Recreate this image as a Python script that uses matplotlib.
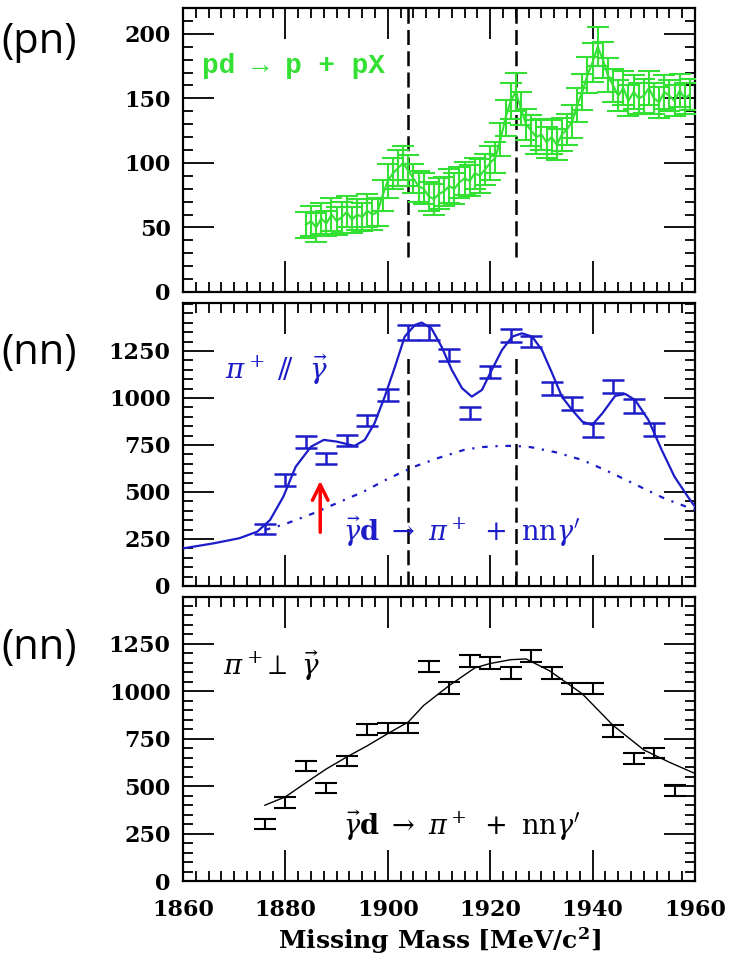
import matplotlib
matplotlib.use("Agg")
import matplotlib.pyplot as plt
from matplotlib.ticker import MultipleLocator

# ---------------- data ----------------
x_range = (1860, 1960)
x_ticks = [1860, 1880, 1900, 1920, 1940, 1960]
dashed_x = [1904, 1925]
y_ticks_top = [0, 50, 100, 150, 200]
y_ticks_nn = [0, 250, 500, 750, 1000, 1250]

# top panel (pn): pd -> p + pX
green_x = list(range(1884, 1960))
green_y = [52, 55, 50, 57, 53, 60, 55, 58, 62, 56, 60, 58, 63, 60, 62,
           75, 86, 92, 96, 100, 94, 88, 82, 80, 74, 72, 76, 78, 82, 80,
           85, 88, 86, 92, 90, 95, 100, 104, 118, 135, 148, 155, 142, 130,
           125, 120, 122, 116, 120, 114, 122, 126, 132, 145, 155, 168, 178,
           190, 180, 168, 160, 152, 158, 148, 155, 150, 152, 158, 150, 147,
           155, 152, 148, 156, 150, 153]
green_err = [10, 12, 11, 12, 10, 13, 11, 12, 12, 10, 12, 11, 13, 12, 11,
             12, 13, 12, 14, 13, 12, 11, 12, 12, 11, 12, 12, 11, 13, 12,
             12, 13, 12, 12, 13, 12, 13, 12, 13, 14, 14, 15, 13, 12,
             12, 13, 12, 12, 13, 12, 13, 12, 13, 13, 14, 14, 15,
             15, 14, 13, 13, 12, 13, 12, 13, 12, 13, 13, 12, 12,
             13, 12, 12, 13, 12, 12]

# middle panel (nn): pi+ parallel gamma
blue_x = [1876, 1880, 1884, 1888, 1892, 1896, 1900, 1904, 1908, 1912,
          1916, 1920, 1924, 1928, 1932, 1936, 1940, 1944, 1948, 1952]
blue_y = [303, 564, 766, 677, 773, 881, 1016, 1347, 1347, 1227,
          920, 1138, 1333, 1302, 1051, 972, 831, 1062, 957, 833]
blue_err = [28, 30, 30, 30, 30, 30, 30, 40, 40, 32,
            34, 32, 34, 30, 36, 34, 38, 34, 36, 36]
blue_fit_x = [1860, 1866, 1871, 1874.5, 1877, 1879.6, 1882, 1885, 1887.5, 1890,
              1893.5, 1895.5, 1897.4, 1899.4, 1901.4, 1903.3, 1905.3, 1906.6,
              1908.5, 1910.5, 1912.5, 1914.5, 1916.4, 1918.4, 1920.3, 1922.3,
              1924.3, 1926.2, 1928.2, 1930.1, 1932.1, 1934, 1936, 1938, 1939.9,
              1941.9, 1944.4, 1946.4, 1948.3, 1950.9, 1953.5, 1956, 1958.6, 1960]
blue_fit_y = [200, 227, 254, 289, 351, 475, 634, 741, 777, 768,
              745, 777, 865, 1007, 1166, 1326, 1388, 1401,
              1371, 1273, 1149, 1052, 1007, 1043, 1149, 1255,
              1326, 1344, 1326, 1255, 1131, 1007, 936, 874, 856,
              918, 1011, 1021, 989, 883, 723, 581, 475, 422]
bg_x = [1876, 1880, 1885.5, 1890, 1895.3, 1900, 1905.1, 1910, 1914.8, 1918,
        1922, 1925, 1928, 1933, 1938, 1943, 1947.9, 1951, 1954, 1957, 1960]
bg_y = [298, 330, 387, 440, 502, 570, 634, 682, 723, 738,
        745, 745, 738, 710, 670, 610, 546, 505, 466, 435, 404]

# bottom panel (nn): pi+ perpendicular gamma
black_x = [1876, 1880, 1884, 1888, 1892, 1896, 1900, 1904, 1908, 1912, 1916,
           1920, 1924, 1928, 1932, 1936, 1940, 1944, 1948, 1952, 1956]
black_y = [299, 413, 606, 490, 632, 798, 805, 805, 1129, 1017, 1159,
           1147, 1094, 1185, 1094, 1012, 1012, 790, 646, 674, 478]
black_err = [26, 28, 28, 28, 28, 28, 28, 28, 30, 30, 30,
             32, 30, 32, 30, 30, 30, 30, 28, 28, 28]
black_fit_x = [1876, 1880, 1884.2, 1888, 1892, 1896, 1900, 1904, 1907, 1912,
               1917, 1920, 1924, 1927, 1931.5, 1938, 1944, 1950, 1955, 1960]
black_fit_y = [399, 443, 521, 590, 653, 712, 776, 837, 924, 1029,
               1122, 1145, 1165, 1169, 1108, 985, 819, 690, 625, 566]

# annotations
arrow_x = 1886.8
arrow_y = (271, 574)

GREEN = '#33e033'
BLUE = '#1c1cc8'
TXT_FONT = ['DejaVu Serif']

plt.rcParams['mathtext.fontset'] = 'dejavuserif'

fig = plt.figure(figsize=(7.32, 9.61), dpi=100)
W, H = 732, 961
left, right = 183, 695
panels_px = [(8, 292), (303, 586), (597, 881)]
axes = []
for (t, b) in panels_px:
    ax = fig.add_axes([left / W, 1 - b / H, (right - left) / W, (b - t) / H])
    axes.append(ax)

ylims = [(0, 220), (0, 1505), (0, 1495)]
yticks = [y_ticks_top, y_ticks_nn, y_ticks_nn]
ymin = [10, 50, 50]
for i, ax in enumerate(axes):
    ax.set_xlim(*x_range)
    ax.set_ylim(*ylims[i])
    ax.xaxis.set_major_locator(MultipleLocator(20))
    ax.xaxis.set_minor_locator(MultipleLocator(2.5))
    ax.set_yticks(yticks[i])
    ax.yaxis.set_minor_locator(MultipleLocator(ymin[i]))
    ax.tick_params(which='both', direction='in', top=True, right=True,
                   width=1.3, color='black')
    ax.tick_params(which='major', length=22)
    ax.tick_params(which='minor', length=7)
    ax.tick_params(axis='y', which='major', labelsize=16, pad=9)
    ax.tick_params(axis='x', which='major', labelsize=16, pad=13)
    for s in ax.spines.values():
        s.set_linewidth(1.6)
    for lab in ax.get_yticklabels() + ax.get_xticklabels():
        lab.set_family(TXT_FONT)
        lab.set_fontweight('bold')
    if i < 2:
        ax.tick_params(axis='x', labelbottom=False)
    else:
        ax.set_xticks(x_ticks)
        ax.set_xlabel('Missing Mass [MeV/c$^{\\mathbf{2}}$]', fontsize=18,
                      family=TXT_FONT, fontweight='bold', labelpad=3)

# ---- top panel
ax = axes[0]
ax.errorbar(green_x, green_y, yerr=green_err, color=GREEN, lw=1.5,
            elinewidth=1.5, capsize=8, capthick=1.5, zorder=3)
for xd in dashed_x:
    ax.plot([xd, xd], [27, 220], color='black', lw=1.8,
            linestyle=(0, (6, 2.5)), zorder=2)
ax.text(1863.7, 175, 'pd \u2192 p + pX', color=GREEN, fontsize=20,
        family=['Liberation Mono'], fontweight='bold', va='center', ha='left')

# ---- middle panel
ax = axes[1]
ax.plot(blue_fit_x, blue_fit_y, color=BLUE, lw=1.6, zorder=3)
ax.plot(bg_x, bg_y, color=BLUE, lw=1.6, linestyle=(0, (2.5, 3.5, 1, 3.5)),
        zorder=3)
ax.errorbar(blue_x, blue_y, yerr=blue_err, fmt='none', ecolor=BLUE,
            elinewidth=1.8, capsize=8, capthick=1.8, zorder=4)
for xd in dashed_x:
    ax.plot([xd, xd], [0, 1210], color='black', lw=1.8,
            linestyle=(0, (6, 2.5)), zorder=2)
ax.text(1868.2, 1149, r'$\pi^+\ /\!/\ \ \vec{\gamma}$', color=BLUE, fontsize=20,
        va='center', ha='left')
ax.text(1891.2, 287, r'$\vec{\gamma}\mathbf{d}\ \rightarrow\ \pi^+\ +\ \mathrm{nn}\gamma^{\prime}$',
        color=BLUE, fontsize=19.5, va='center', ha='left')
ax.annotate('', xy=(arrow_x, arrow_y[1]), xytext=(arrow_x, arrow_y[0]),
            arrowprops=dict(arrowstyle='->', color='red', lw=2.5,
                            mutation_scale=28), zorder=6)

# ---- bottom panel
ax = axes[2]
ax.plot(black_fit_x, black_fit_y, color='black', lw=1.0, zorder=3)
ax.errorbar(black_x, black_y, yerr=black_err, fmt='none', ecolor='black',
            elinewidth=1.5, capsize=8, capthick=1.5, zorder=4)
ax.text(1867.8, 1131, r'$\pi^+\!\perp\ \vec{\gamma}$', color='black', fontsize=20,
        va='center', ha='left')
ax.text(1891.2, 289, r'$\vec{\gamma}\mathbf{d}\ \rightarrow\ \pi^+\ +\ \mathrm{nn}\gamma^{\prime}$',
        color='black', fontsize=19.5, va='center', ha='left')

# ---- side labels
for lab, ypx in [('(pn)', 42), ('(nn)', 353), ('(nn)', 648)]:
    fig.text(1 / W, 1 - ypx / H, lab, fontsize=30, family=['Open Sans'],
             va='center', ha='left')

fig.savefig('out.png', dpi=100)
